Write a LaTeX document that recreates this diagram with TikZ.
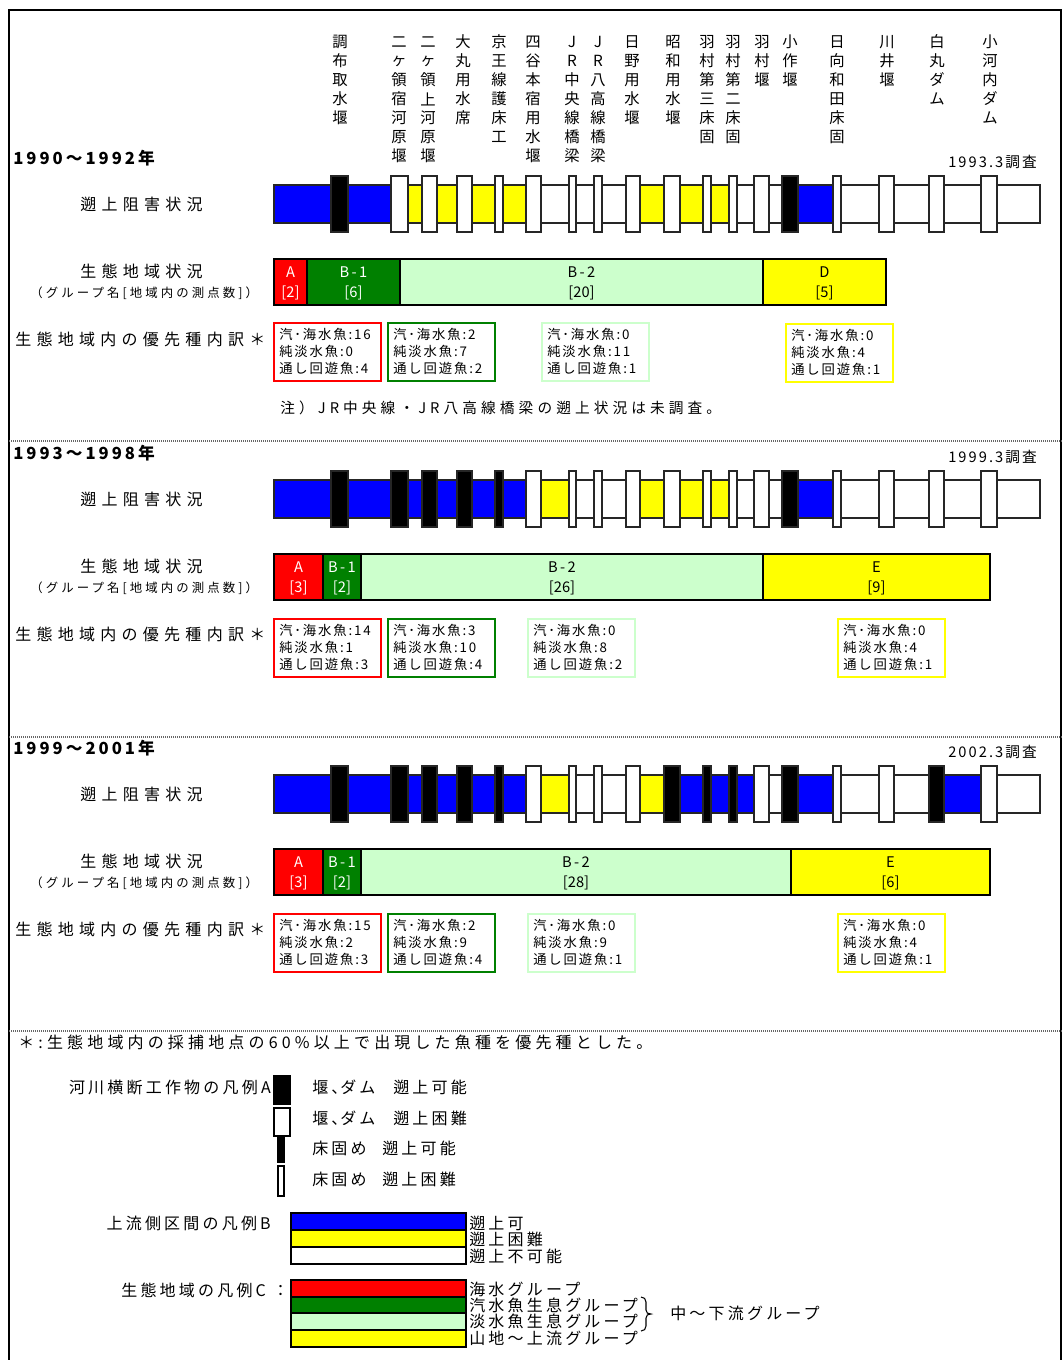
\documentclass[tikz,border=0pt]{standalone}
\usepackage{fontspec}
\setmainfont{Noto Sans CJK JP}
\newfontfamily\jpA[LetterSpace=33]{Noto Sans CJK JP}
\newfontfamily\jpN[LetterSpace=28]{Noto Sans CJK JP}
\newfontfamily\jpF[LetterSpace=26]{Noto Sans CJK JP}
\newfontfamily\jpL[LetterSpace=20]{Noto Sans CJK JP}
\newfontfamily\jpB[LetterSpace=14]{Noto Sans CJK JP}
\newfontfamily\jpY[LetterSpace=18]{Noto Sans CJK JP}
\newfontfamily\jpC[LetterSpace=25]{Noto Sans CJK JP}
\usetikzlibrary{calc}
\definecolor{cblue}{HTML}{0000FF}
\definecolor{cyel}{HTML}{FFFF00}
\definecolor{cred}{HTML}{FF0000}
\definecolor{cgrn}{HTML}{008000}
\definecolor{clgr}{HTML}{CCFFCC}
\tikzset{
  hdr/.style={font=\fontsize{11.5pt}{11.5pt}\selectfont, inner sep=0pt},
  yr/.style={font=\jpY\bfseries\fontsize{12.5pt}{12.5pt}\selectfont, inner sep=0pt, anchor=west},
  dt/.style={font=\jpB\fontsize{11pt}{11pt}\selectfont, inner sep=0pt, anchor=east},
  lab/.style={font=\jpA\fontsize{12pt}{12pt}\selectfont, inner sep=0pt, anchor=west},
  sub/.style={font=\jpC\fontsize{9.3pt}{9.3pt}\selectfont, inner sep=0pt, anchor=west},
  lgt/.style={font=\jpL\fontsize{12pt}{12pt}\selectfont, inner sep=0pt, anchor=west},
  lgr/.style={font=\jpL\fontsize{12pt}{12pt}\selectfont, inner sep=0pt, anchor=east},
  bt/.style={font=\jpB\fontsize{10pt}{10pt}\selectfont, inner sep=0pt, anchor=west},
  gt/.style={font=\fontsize{11pt}{11pt}\selectfont, inner sep=0pt},
  barline/.style={draw=black!85, line width=0.8pt},
  strw/.style={draw=black!85, fill=white, line width=0.9pt},
  strb/.style={draw=black!85, fill=black, line width=0.9pt},
  grpb/.style={draw=black, line width=2pt},
  boxs/.style={line width=1.5pt, fill=white},
  sep/.style={draw=black!60, line width=0.8pt, dash pattern=on 0.75pt off 0.75pt},
  band/.style={draw=black, line width=1.5pt},
}
\newcommand\vlab[3]{\foreach \c [count=\i] in {#3} {\node[hdr] (#1-\i) at (#2,{42+19*(\i-1)}) {\c};}}
\newcommand\seg[3]{\fill[#3] (#1,185) rectangle (#2,223);}
\newcommand\allstr{%
  \foreach \a/\b in {331/348,391/408,422/437,457/472,495/503,526/541,569/576,594/602,626/640,664/680,703/711,729/737,754/769,782/798,833/841,879/894,929/944,981/997}
    {\draw[strw] (\a,176) rectangle (\b,232);}}
\newcommand\bstr[2]{\draw[strb] (#1,176) rectangle (#2,232);}
\newcommand\grp[7]{%
  \draw[grpb, fill=#3] (#1,259) rectangle (#2,305);
  \node[gt, text=#4] (#7a) at ({(#1+#2)/2},272) {#5};
  \node[gt, text=#4] (#7b) at ({(#1+#2)/2},293) {#6};}
\newcommand\spbox[7]{%
  \draw[boxs, draw=#3] (#1,#2) rectangle ++(107,58);
  \node[bt] (#7a) at (#1+5,#2+11) {汽･海水魚:#4};
  \node[bt] (#7b) at (#1+5,#2+28) {純淡水魚:#5};
  \node[bt] (#7c) at (#1+5,#2+45) {通し回遊魚:#6};}
\newcommand\rowlabels[3]{%
  \node[yr] (#1yr) at (13,158) {#2};
  \node[dt] (#1dt) at (1037,162) {#3};
  \node[lab] (#1l1) at (80,204) {遡上阻害状況};
  \node[lab] (#1l2) at (80,271) {生態地域状況};
  \node[sub] (#1l3) at (30,293) {（グループ名[地域内の測点数]）};
  \node[lab] (#1l4) at (15,339) {生態地域内の優先種内訳＊};}
\newcommand\gB[1]{B\,-\,#1}
\begin{document}
\begin{tikzpicture}[x=0.75pt,y=-0.75pt]
\useasboundingbox (0,0) rectangle (1063,1360);
\fill[white] (0,0) rectangle (1063,1360);
% frame
\draw[line width=0.8pt] (9,1365) -- (9,10) -- (1061,10) -- (1061,1365);
\draw[sep] (9,441) -- (1063,441);
\draw[sep] (9,737) -- (1063,737);
\draw[sep] (9,1031) -- (1063,1031);
% header
\vlab{h1}{340}{調,布,取,水,堰}
\vlab{h2}{399}{二,ヶ,領,宿,河,原,堰}
\vlab{h3}{428}{二,ヶ,領,上,河,原,堰}
\vlab{h4}{463}{大,丸,用,水,席}
\vlab{h5}{499}{京,王,線,護,床,工}
\vlab{h6}{533}{四,谷,本,宿,用,水,堰}
\vlab{h7}{572}{J,R,中,央,線,橋,梁}
\vlab{h8}{598}{J,R,八,高,線,橋,梁}
\vlab{h9}{632}{日,野,用,水,堰}
\vlab{h10}{673}{昭,和,用,水,堰}
\vlab{h11}{707}{羽,村,第,三,床,固}
\vlab{h12}{733}{羽,村,第,二,床,固}
\vlab{h13}{762}{羽,村,堰}
\vlab{h14}{790}{小,作,堰}
\vlab{h15}{837}{日,向,和,田,床,固}
\vlab{h16}{887}{川,井,堰}
\vlab{h17}{937}{白,丸,ダ,ム}
\vlab{h18}{990}{小,河,内,ダ,ム}
% ---------- row 1
\begin{scope}
\rowlabels{r1}{1990～1992年}{1993.3調査}
\seg{274}{391}{cblue}\seg{391}{526}{cyel}\seg{640}{737}{cyel}\seg{798}{833}{cblue}
\draw[barline] (274,185) rectangle (1040,223);
\allstr
\bstr{331}{348}\bstr{782}{798}
\grp{274}{307}{cred}{white}{A}{[2]}{r1gA}
\grp{307}{400}{cgrn}{white}{\gB{1}}{[6]}{r1gB}
\grp{400}{763}{clgr}{black}{\gB{2}}{[20]}{r1gC}
\grp{763}{886}{cyel}{black}{D}{[5]}{r1gD}
\spbox{274}{323}{cred}{16}{0}{4}{r1bA}
\spbox{388}{323}{cgrn}{2}{7}{2}{r1bB}
\spbox{542}{323}{clgr}{0}{11}{1}{r1bC}
\spbox{786}{324}{cyel}{0}{4}{1}{r1bD}
\node[lgt, font=\jpN\fontsize{11pt}{11pt}\selectfont] (note) at (280,408) {注）JR中央線・JR八高線橋梁の遡上状況は未調査。};
\end{scope}
% ---------- row 2
\begin{scope}[shift={(0,295)}]
\rowlabels{r2}{1993～1998年}{1999.3調査}
\seg{274}{526}{cblue}\seg{541}{569}{cyel}\seg{640}{737}{cyel}\seg{798}{833}{cblue}
\draw[barline] (274,185) rectangle (1040,223);
\allstr
\bstr{331}{348}\bstr{391}{408}\bstr{422}{437}\bstr{457}{472}\bstr{495}{503}\bstr{782}{798}
\grp{274}{323}{cred}{white}{A}{[3]}{r2gA}
\grp{323}{361}{cgrn}{white}{\gB{1}}{[2]}{r2gB}
\grp{361}{763}{clgr}{black}{\gB{2}}{[26]}{r2gC}
\grp{763}{990}{cyel}{black}{E}{[9]}{r2gD}
\spbox{274}{324}{cred}{14}{1}{3}{r2bA}
\spbox{388}{324}{cgrn}{3}{10}{4}{r2bB}
\spbox{528}{324}{clgr}{0}{8}{2}{r2bC}
\spbox{838}{324}{cyel}{0}{4}{1}{r2bD}
\end{scope}
% ---------- row 3
\begin{scope}[shift={(0,590)}]
\rowlabels{r3}{1999～2001年}{2002.3調査}
\seg{274}{526}{cblue}\seg{541}{569}{cyel}\seg{640}{664}{cyel}\seg{664}{754}{cblue}\seg{798}{833}{cblue}\seg{944}{981}{cblue}
\draw[barline] (274,185) rectangle (1040,223);
\allstr
\bstr{331}{348}\bstr{391}{408}\bstr{422}{437}\bstr{457}{472}\bstr{495}{503}
\bstr{664}{680}\bstr{703}{711}\bstr{729}{737}\bstr{782}{798}\bstr{929}{944}
\grp{274}{323}{cred}{white}{A}{[3]}{r3gA}
\grp{323}{361}{cgrn}{white}{\gB{1}}{[2]}{r3gB}
\grp{361}{791}{clgr}{black}{\gB{2}}{[28]}{r3gC}
\grp{791}{990}{cyel}{black}{E}{[6]}{r3gD}
\spbox{274}{324}{cred}{15}{2}{3}{r3bA}
\spbox{388}{324}{cgrn}{2}{9}{4}{r3bB}
\spbox{528}{324}{clgr}{0}{9}{1}{r3bC}
\spbox{838}{324}{cyel}{0}{4}{1}{r3bD}
\end{scope}
% ---------- legend
\node[lgt, font=\jpF\fontsize{12pt}{12pt}\selectfont] (fn) at (18,1042) {＊:生態地域内の採捕地点の60\%以上で出現した魚種を優先種とした。};
\node[lgr] (lA) at (271,1087) {河川横断工作物の凡例A};
\draw[fill=black, line width=0.8pt] (274,1076) rectangle (290,1104);
\draw[fill=white, line width=0.8pt] (274,1108) rectangle (290,1136);
\draw[fill=black, line width=0.8pt] (278,1138) rectangle (284,1162);
\draw[fill=white, line width=0.8pt] (278,1166) rectangle (284,1196);
\node[lgt] (lA1) at (312,1087) {堰、\kern-0.45em ダム};
\node[lgt] (lA1b) at (393,1087) {遡上可能};
\node[lgt] (lA2) at (312,1118) {堰、\kern-0.45em ダム};
\node[lgt] (lA2b) at (393,1118) {遡上困難};
\node[lgt] (lA3) at (312,1148) {床固め};
\node[lgt] (lA3b) at (382,1148) {遡上可能};
\node[lgt] (lA4) at (312,1179) {床固め};
\node[lgt] (lA4b) at (382,1179) {遡上困難};
\node[lgr] (lB) at (271,1223) {上流側区間の凡例B};
\draw[band, fill=cblue] (291,1213) rectangle (466,1230);
\draw[band, fill=cyel] (291,1230) rectangle (466,1247);
\draw[band, fill=white] (291,1247) rectangle (466,1264);
\draw[line width=2.2pt] (291,1213) rectangle (466,1264);
\node[lgt] (lB1) at (469,1223) {遡上可};
\node[lgt] (lB2) at (469,1239) {遡上困難};
\node[lgt] (lB3) at (469,1256) {遡上不可能};
\node[lgr] (lC) at (289,1290) {生態地域の凡例C ：};
\draw[band, fill=cred] (291,1280) rectangle (466,1297);
\draw[band, fill=cgrn] (291,1297) rectangle (466,1313);
\draw[band, fill=clgr] (291,1313) rectangle (466,1330);
\draw[band, fill=cyel] (291,1330) rectangle (466,1347);
\draw[line width=2.2pt] (291,1280) rectangle (466,1347);
\node[lgt] (lC1) at (469,1289) {海水グループ};
\node[lgt] (lC2) at (469,1305) {汽水魚生息グループ};
\node[lgt] (lC3) at (469,1321) {淡水魚生息グループ};
\node[lgt] (lC4) at (469,1338) {山地～上流グループ};
\draw[line width=0.8pt] (641,1297) .. controls (644,1297) and (646,1299) .. (646,1302) -- (646,1310)
  .. controls (646,1313) and (648,1314) .. (651,1314) .. controls (648,1314) and (646,1315) .. (646,1318)
  -- (646,1326) .. controls (646,1329) and (644,1331) .. (641,1331);
\node[lgt] (lC5) at (670,1313) {中～下流グループ};
\end{tikzpicture}
\end{document}
